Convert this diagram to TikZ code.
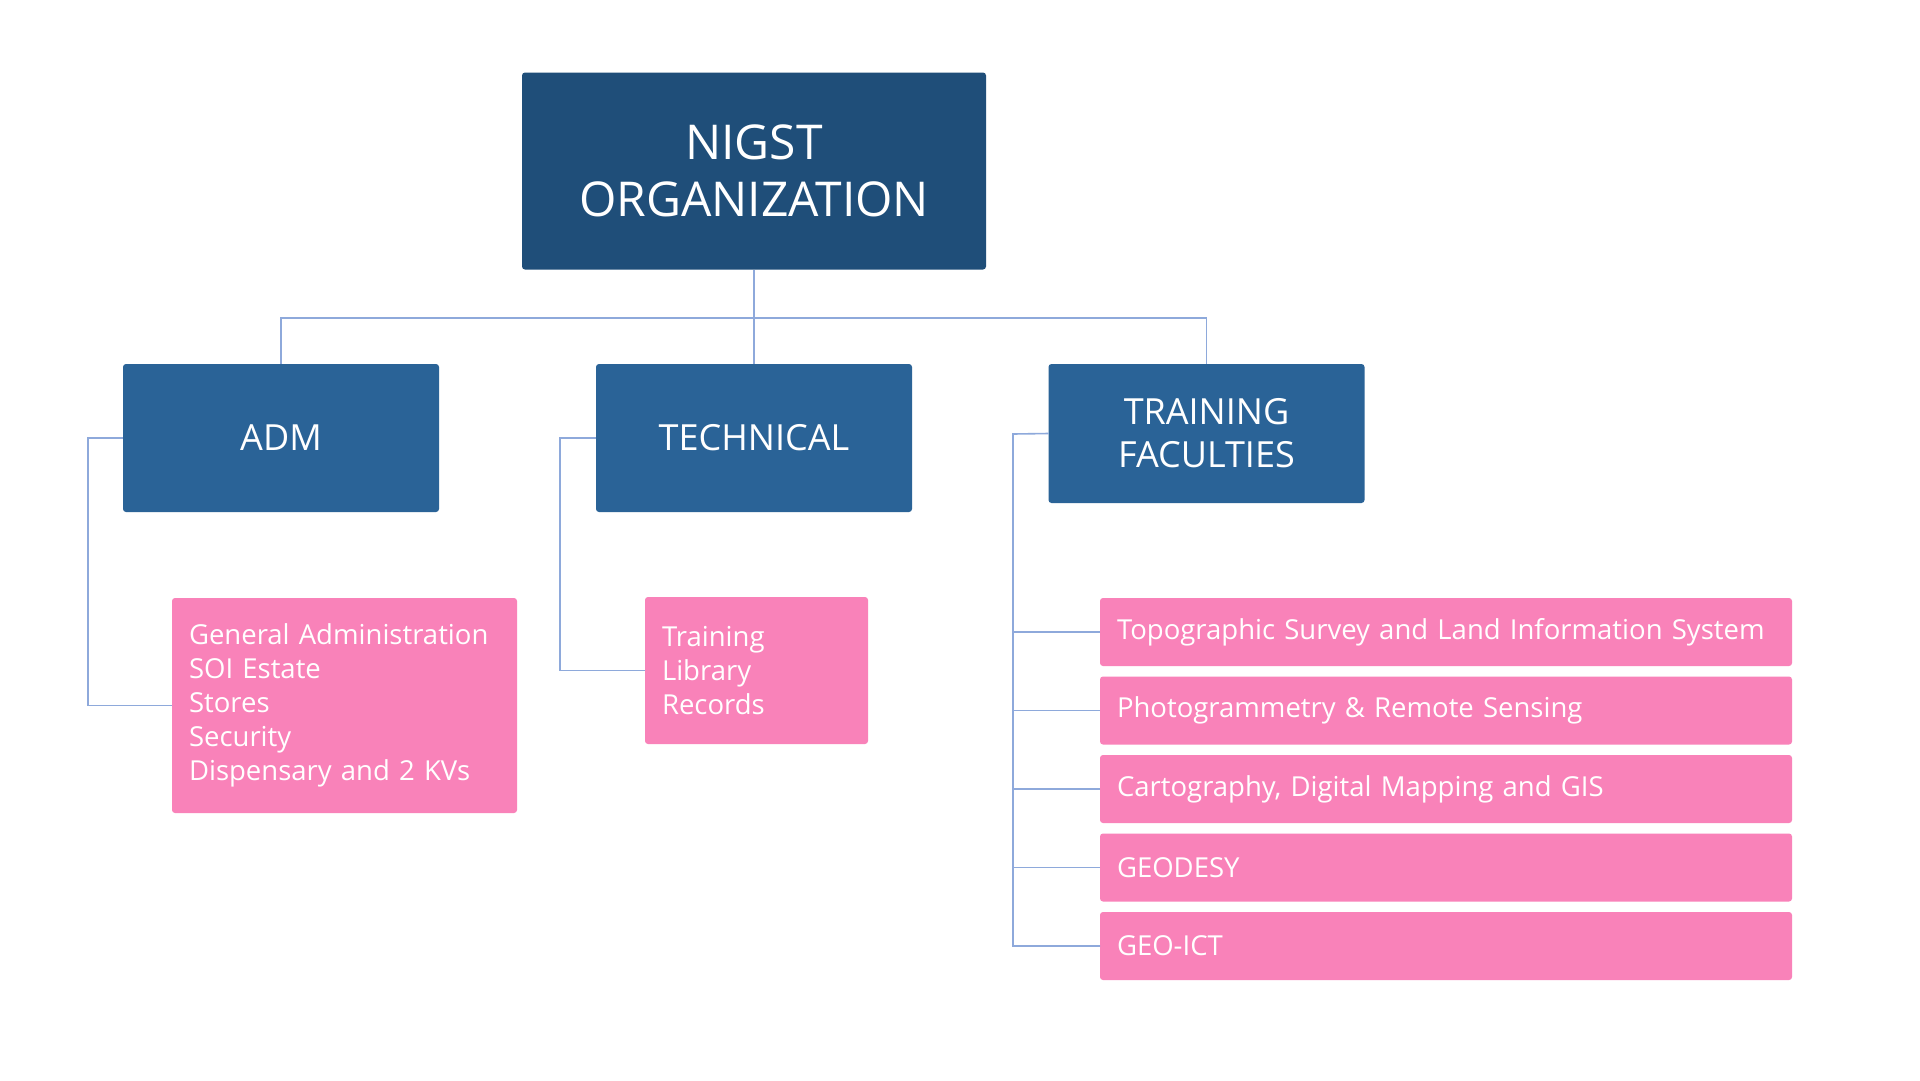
\documentclass[tikz,border=0pt]{standalone}
\usepackage{fontspec}
\setmainfont{Open Sans}
\definecolor{topblue}{HTML}{1F4E79}
\definecolor{midblue}{HTML}{2A6397}
\definecolor{pinkbox}{HTML}{F982B9}
\definecolor{connblue}{HTML}{8EA9DB}
\begin{document}
\begin{tikzpicture}[x=1pt,y=-1pt,
  topbox/.style={fill=topblue,text=white,rounded corners=3pt,inner sep=0pt,outer sep=0pt,align=center,font=\fontsize{48}{57}\selectfont},
  midbox/.style={fill=midblue,text=white,rounded corners=3pt,inner sep=0pt,outer sep=0pt,align=center,font=\fontsize{36}{43}\selectfont},
  pinkitem/.style={fill=pinkbox,text=white,rounded corners=3pt,inner ysep=0pt,inner xsep=17pt,outer sep=0pt,align=left,font=\fontsize{27.5}{34}\selectfont},
  conn/.style={draw=connblue,line width=1.6pt}]
\useasboundingbox[fill=white] (0,0) rectangle (1920,1080);
\node[topbox,minimum width=464pt,minimum height=197pt] (top) at (754,171) {NIGST\\ORGANIZATION};
\node[midbox,minimum width=316pt,minimum height=148pt] (adm) at (281,438) {ADM};
\node[midbox,minimum width=316pt,minimum height=148pt] (tech) at (754,438) {TECHNICAL};
\node[midbox,minimum width=316pt,minimum height=139pt] (fac) at (1206.5,433.5) {TRAINING\\FACULTIES};
\node[pinkitem,minimum width=345pt,minimum height=215pt,text width=311pt,inner xsep=16pt] (adm1) at (344.5,705.5) {General Administration\\SOI Estate\\Stores\\Security\\Dispensary and 2 KVs};
\node[pinkitem,minimum width=223pt,minimum height=147pt,text width=189pt] (tech1) at (756.5,670.5) {Training\\Library\\Records};
\node[pinkitem,minimum width=692pt,minimum height=68pt,text width=658pt] (r1) at (1446,632) {Topographic Survey and Land Information System};
\node[pinkitem,minimum width=692pt,minimum height=68pt,text width=658pt] (r2) at (1446,710.5) {Photogrammetry \& Remote Sensing};
\node[pinkitem,minimum width=692pt,minimum height=68pt,text width=658pt] (r3) at (1446,789) {Cartography, Digital Mapping and GIS};
\node[pinkitem,minimum width=692pt,minimum height=68pt,text width=658pt] (r4) at (1446,867.5) {GEODESY};
\node[pinkitem,minimum width=692pt,minimum height=68pt,text width=658pt] (r5) at (1446,946) {GEO-ICT};
\coordinate (bus) at (754,318);
\coordinate (fx) at (1013,434);
\draw[conn] (top.south) -- (bus);
\draw[conn] (adm.north) |- (bus) -| (fac.north);
\draw[conn] (bus) -- (tech.north);
\draw[conn] (adm.west) -- ++(-35,0) |- (adm1.west);
\draw[conn] (tech.west) -- ++(-36,0) |- (tech1.west);
\draw[conn] (fac.west) -- (fx) |- (r5.west);
\foreach \r in {r1,r2,r3,r4} { \draw[conn] (\r.west) -- (\r.west -| fx); }
\end{tikzpicture}
\end{document}
